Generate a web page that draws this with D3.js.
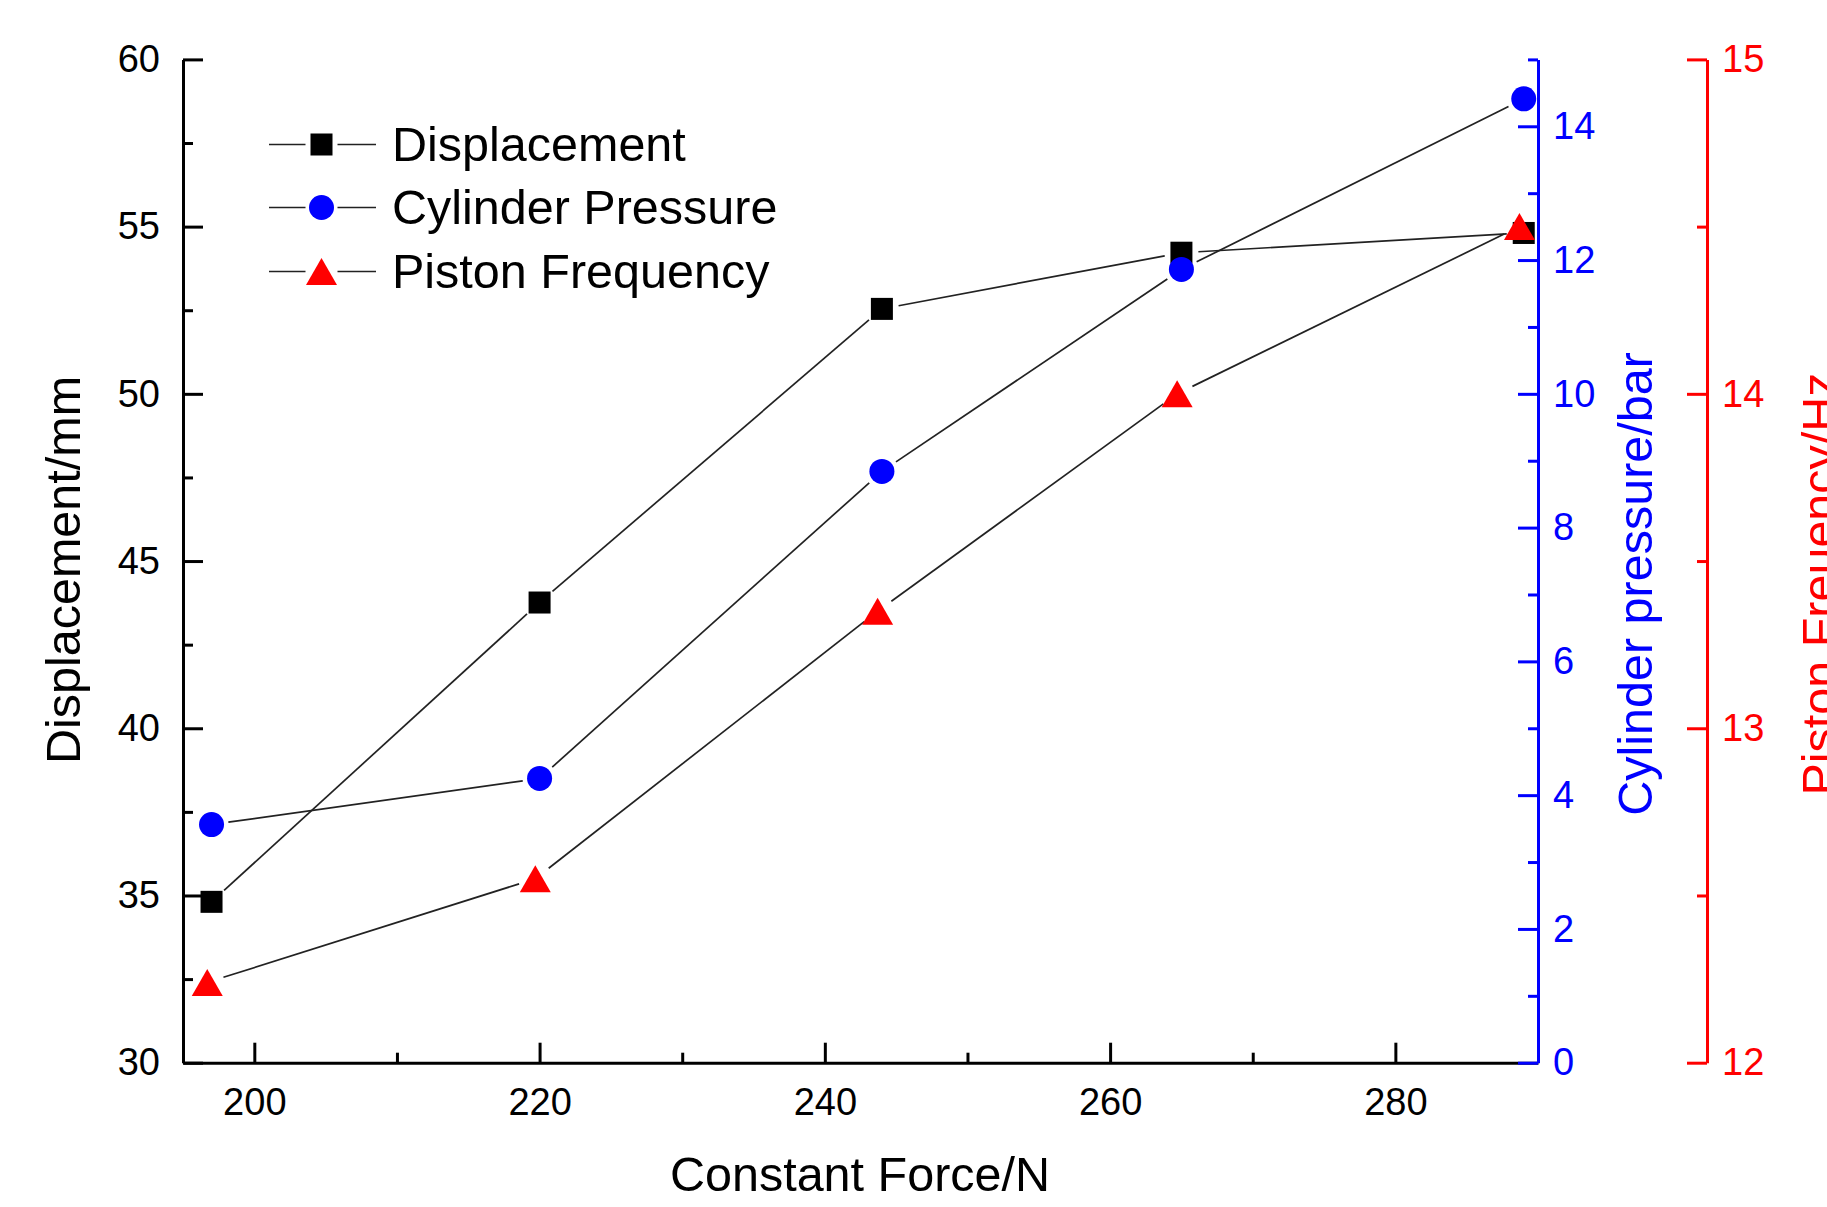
<!DOCTYPE html>
<html>
<head>
<meta charset="utf-8">
<script src="https://cdn.jsdelivr.net/npm/d3@7"></script>
<style>
  html, body { margin: 0; padding: 0; background: #fff; }
  svg { display: block; }
  text { font-family: "Liberation Sans", Arial, Helvetica, sans-serif; }
</style>
</head>
<body>
<svg id="chart" width="1827" height="1207"></svg>
<script>
// Applied constant force (N) for each test run
const forceN = [197, 220, 244, 265, 289];
// Force values logged alongside the piston frequency readings
const forceFreqN = [196.7, 219.7, 243.7, 264.7, 288.7];

// Measured series
const displacementMm = [34.81, 43.76, 52.54, 54.22, 54.81];
const pressureBar = [3.56, 4.25, 8.84, 11.86, 14.41];
const frequencyHz = [12.24, 12.55, 13.35, 14.0, 14.5];

// Tick values
const xMajor = [200, 220, 240, 260, 280];
const xMinor = [210, 230, 250, 270];
const dispMajor = [30, 35, 40, 45, 50, 55, 60];
const dispMinor = [32.5, 37.5, 42.5, 47.5, 52.5, 57.5];
const presMajor = [0, 2, 4, 6, 8, 10, 12, 14];
const presMinor = [1, 3, 5, 7, 9, 11, 13, 15];
const freqMajor = [12, 13, 14, 15];
const freqMinor = [12.5, 13.5, 14.5];

// Legend entries
const legendNames = ["Displacement", "Cylinder Pressure", "Piston Frequency"];

const svg = d3.select("#chart");
svg.append("rect").attr("width", 1827).attr("height", 1207).attr("fill", "#fff");

const plotLeft = 183, plotRight = 1538, plotTop = 59.4, plotBottom = 1062.7;
const redX = 1707;

const x = d3.scaleLinear([195, 290], [plotLeft, plotRight]);
const yDisp = d3.scaleLinear([30, 60], [plotBottom, plotTop]);
const yPres = d3.scaleLinear([0, 15], [plotBottom, plotTop]);
const yFreq = d3.scaleLinear([12, 15], [plotBottom, plotTop]);

const BLUE = "#0000ff", RED = "#ff0000", BLACK = "#000";
const tickFont = 38;
const AXW = 3;
const intFmt = d3.format("d");

function styleAxis(g, color) {
  g.selectAll("path.domain").attr("stroke", color).attr("stroke-width", AXW);
  g.selectAll(".tick line").attr("stroke", color).attr("stroke-width", AXW);
  g.selectAll(".tick text").attr("fill", color).attr("font-size", tickFont)
    .style("font-family", '"Liberation Sans", Arial, sans-serif');
}

// Bottom axis
const gxMin = svg.append("g").attr("transform", `translate(0,${plotBottom})`)
  .call(d3.axisBottom(x).tickValues(xMinor).tickSize(-10).tickSizeOuter(0).tickFormat(""));
gxMin.select("path.domain").remove();
styleAxis(gxMin, BLACK);
const gx = svg.append("g").attr("transform", `translate(0,${plotBottom})`)
  .call(d3.axisBottom(x).tickValues(xMajor).tickSize(-20).tickSizeOuter(0).tickPadding(25).tickFormat(intFmt));
styleAxis(gx, BLACK);

// Left axis: displacement
const gyMin = svg.append("g").attr("transform", `translate(${plotLeft},0)`)
  .call(d3.axisLeft(yDisp).tickValues(dispMinor).tickSize(-10).tickSizeOuter(0).tickFormat(""));
gyMin.select("path.domain").remove();
styleAxis(gyMin, BLACK);
const gy = svg.append("g").attr("transform", `translate(${plotLeft},0)`)
  .call(d3.axisLeft(yDisp).tickValues(dispMajor).tickSize(-20).tickSizeOuter(0).tickPadding(23).tickFormat(intFmt));
styleAxis(gy, BLACK);

// Right axis: cylinder pressure
const gpMin = svg.append("g").attr("transform", `translate(${plotRight},0)`)
  .call(d3.axisRight(yPres).tickValues(presMinor).tickSize(-10).tickSizeOuter(0).tickFormat(""));
gpMin.select("path.domain").remove();
styleAxis(gpMin, BLUE);
const gp = svg.append("g").attr("transform", `translate(${plotRight},0)`)
  .call(d3.axisRight(yPres).tickValues(presMajor).tickSize(-20).tickSizeOuter(0).tickPadding(15).tickFormat(intFmt));
styleAxis(gp, BLUE);

// Offset right axis: piston frequency
const gfMin = svg.append("g").attr("transform", `translate(${redX},0)`)
  .call(d3.axisRight(yFreq).tickValues(freqMinor).tickSize(-10).tickSizeOuter(0).tickFormat(""));
gfMin.select("path.domain").remove();
styleAxis(gfMin, RED);
const gf = svg.append("g").attr("transform", `translate(${redX},0)`)
  .call(d3.axisRight(yFreq).tickValues(freqMajor).tickSize(-20).tickSizeOuter(0).tickPadding(15).tickFormat(intFmt));
styleAxis(gf, RED);

// Axis titles
const titleFont = 48.5;
svg.append("text").attr("x", 860).attr("y", 1191).attr("text-anchor", "middle")
  .attr("font-size", titleFont).attr("fill", BLACK).text("Constant Force/N");
svg.append("text").attr("transform", "translate(80,570) rotate(-90)").attr("text-anchor", "middle")
  .attr("font-size", titleFont).attr("fill", BLACK).text("Displacement/mm");
svg.append("text").attr("transform", "translate(1652,584) rotate(-90)").attr("text-anchor", "middle")
  .attr("font-size", titleFont).attr("fill", BLUE).text("Cylinder pressure/bar");
svg.append("text").attr("transform", "translate(1836,584) rotate(-90)").attr("text-anchor", "middle")
  .attr("font-size", titleFont).attr("fill", RED).text("Piston Freuency/Hz");

// Series definitions
const series = [
  { xs: forceN, ys: displacementMm, y: yDisp, shape: "square", color: BLACK },
  { xs: forceN, ys: pressureBar, y: yPres, shape: "circle", color: BLUE },
  { xs: forceFreqN, ys: frequencyHz, y: yFreq, shape: "triangle", color: RED }
];

const GAP = 17;
const lineColor = "#222";

// Connecting segments, stopped short of each marker
const lineLayer = svg.append("g");
series.forEach(s => {
  const pts = s.xs.map((v, i) => [x(v), s.y(s.ys[i])]);
  d3.pairs(pts).forEach(([a, b]) => {
    const dx = b[0] - a[0], dy = b[1] - a[1];
    const len = Math.hypot(dx, dy);
    const ux = dx / len, uy = dy / len;
    lineLayer.append("line")
      .attr("x1", a[0] + ux * GAP).attr("y1", a[1] + uy * GAP)
      .attr("x2", b[0] - ux * GAP).attr("y2", b[1] - uy * GAP)
      .attr("stroke", lineColor).attr("stroke-width", 1.7);
  });
});

function drawMarker(g, shape, cx, cy, color) {
  if (shape === "square") {
    g.append("rect").attr("x", cx - 11).attr("y", cy - 11).attr("width", 22).attr("height", 22)
      .attr("fill", color);
  } else if (shape === "circle") {
    g.append("circle").attr("cx", cx).attr("cy", cy).attr("r", 12.5).attr("fill", color);
  } else {
    const w = 31, h = 27;
    g.append("path")
      .attr("d", `M${cx},${cy - h / 2}L${cx + w / 2},${cy + h / 2}L${cx - w / 2},${cy + h / 2}Z`)
      .attr("fill", color);
  }
}

const markerLayer = svg.append("g");
series.forEach(s => {
  s.xs.forEach((v, i) => drawMarker(markerLayer, s.shape, x(v), s.y(s.ys[i]), s.color));
});

// Legend
const legend = svg.append("g");
const legendY = [144.5, 207.5, 271.5];
series.forEach((s, i) => {
  const yy = legendY[i];
  const mx = 321.5;
  legend.append("line").attr("x1", 269).attr("x2", mx - 16).attr("y1", yy).attr("y2", yy)
    .attr("stroke", lineColor).attr("stroke-width", 1.7);
  legend.append("line").attr("x1", mx + 16).attr("x2", 376).attr("y1", yy).attr("y2", yy)
    .attr("stroke", lineColor).attr("stroke-width", 1.7);
  drawMarker(legend, s.shape, mx, yy, s.color);
  legend.append("text").attr("x", 392).attr("y", yy).attr("dy", "0.35em")
    .attr("font-size", 48.5).attr("fill", BLACK).text(legendNames[i]);
});
</script>
</body>
</html>
